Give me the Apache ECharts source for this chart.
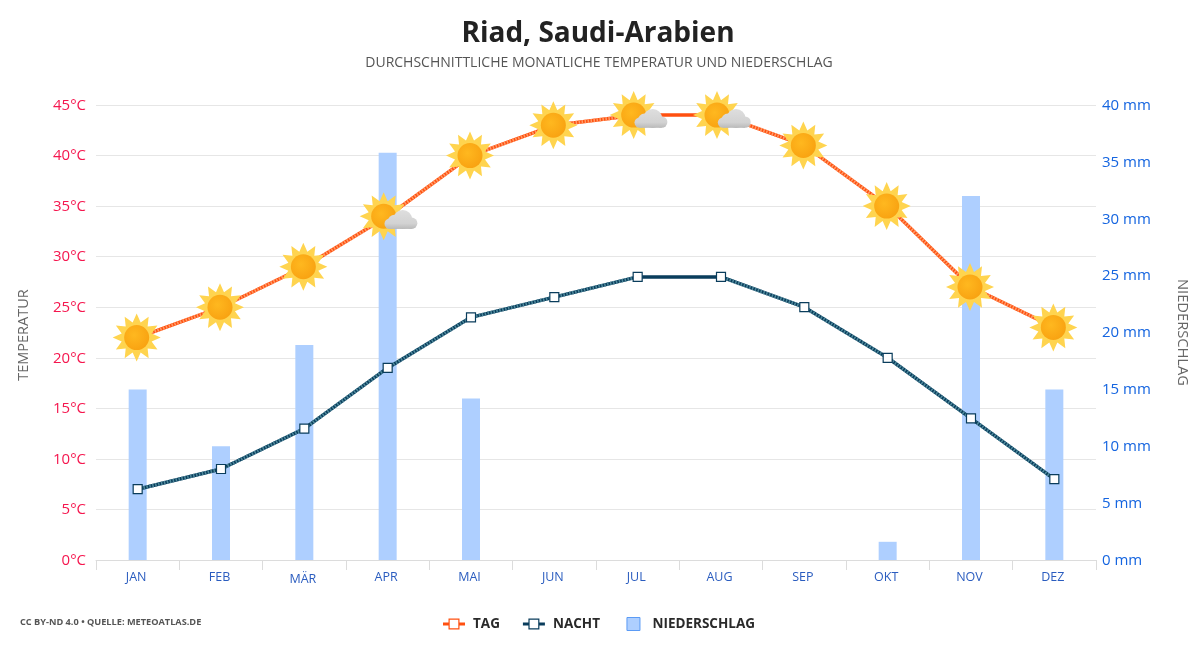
<!DOCTYPE html>
<html lang="de">
<head>
<meta charset="utf-8">
<title>Riad, Saudi-Arabien</title>
<script src="https://cdn.jsdelivr.net/npm/echarts@6/dist/echarts.min.js"></script>
<style>
  html, body { margin: 0; padding: 0; background: #fff; }
  #chart { width: 1200px; height: 650px; }
</style>
</head>
<body>
<div id="chart"></div>
<script>
const months = ['JAN', 'FEB', 'MÄR', 'APR', 'MAI', 'JUN', 'JUL', 'AUG', 'SEP', 'OKT', 'NOV', 'DEZ'];
const dayTemps = [22, 25, 29, 34, 40, 43, 44, 44, 41, 35, 27, 23];
const nightTemps = [7, 9, 13, 19, 24, 26, 28, 28, 25, 20, 14, 8];
const rainfall = [15, 10, 18.9, 35.8, 14.2, 0, 0, 0, 0, 1.6, 32, 15];
const weather = ['sun', 'sun', 'sun', 'cloud', 'sun', 'sun', 'cloud', 'cloud', 'sun', 'sun', 'sun', 'sun'];

const FONT = '"Open Sans", "Noto Sans", sans-serif';
const DAY_COLOR = '#ff5010';
const NIGHT_COLOR = '#0a3d5c';

// Sonnen-Icon als SVG, Mitte des Bildes = Mitte der Sonne
function weatherIcon(kind) {
  const pts = [];
  for (let i = 0; i < 24; i++) {
    const r = i % 2 === 0 ? 24 : 15.5;
    const a = (i * 15 - 90) * Math.PI / 180;
    pts.push((r * Math.cos(a)).toFixed(2) + ',' + (r * Math.sin(a)).toFixed(2));
  }
  let cloud = '';
  if (kind === 'cloud') {
    cloud = '<g fill="url(#c)"><circle cx="6" cy="7.5" r="5.2"/><circle cx="11" cy="5.5" r="7"/>' +
      '<circle cx="19" cy="3.3" r="9.5"/><circle cx="28" cy="7" r="5.7"/><rect x="6" y="6" width="22" height="6.7"/></g>';
  }
  const svg = '<svg xmlns="http://www.w3.org/2000/svg" width="76" height="52" viewBox="-38 -26 76 52">' +
    '<defs><radialGradient id="s" cx="0.4" cy="0.4" r="0.7"><stop offset="0" stop-color="#ffb81f"/><stop offset="1" stop-color="#f8a010"/></radialGradient>' +
    '<linearGradient id="c" x1="0" y1="-6" x2="0" y2="13" gradientUnits="userSpaceOnUse"><stop offset="0" stop-color="#dedede"/><stop offset="0.7" stop-color="#d2d2d2"/><stop offset="1" stop-color="#b8b8b8"/></linearGradient></defs>' +
    '<polygon points="' + pts.join(' ') + '" fill="#ffd44f"/>' +
    '<circle r="15" fill="#ffd44f"/><circle r="12.5" fill="url(#s)"/>' + cloud + '</svg>';
  return 'image://data:image/svg+xml;charset=utf-8,' + encodeURIComponent(svg);
}

// helle Streifen auf den schraegen Linienstuecken
function stripeSeries(values, from, to, color) {
  return {
    type: 'line', yAxisIndex: 0, z: 3, silent: true, symbol: 'none',
    lineStyle: { color: color, width: 3.5, type: [1.5, 1.5] },
    data: values.map((v, i) => (i >= from && i <= to ? v : '-'))
  };
}

const chart = echarts.init(document.getElementById('chart'), null, { renderer: 'canvas' });

const lineIcon = 'path://M0 4H5.5V0H16.5V4H22V7H16.5V11H5.5V7H0Z M6.7 1.2V9.8H15.3V1.2Z';

chart.setOption({
  animation: false,
  backgroundColor: '#fff',
  textStyle: { fontFamily: FONT },
  title: [
    {
      text: 'Riad, Saudi-Arabien',
      left: 593, top: 15, textAlign: 'center',
      textStyle: { fontFamily: FONT, fontSize: 28, fontWeight: 'bold', color: '#222' }
    },
    {
      text: 'DURCHSCHNITTLICHE MONATLICHE TEMPERATUR UND NIEDERSCHLAG',
      left: 594, top: 51, textAlign: 'center',
      textStyle: { fontFamily: FONT, fontSize: 14, fontWeight: 'normal', color: '#555' }
    },
    {
      text: 'CC BY-ND 4.0 • QUELLE: METEOATLAS.DE',
      left: 15, top: 613,
      textStyle: { fontFamily: FONT, fontSize: 9.2, fontWeight: 'bold', color: '#555' }
    }
  ],
  legend: {
    left: 438, top: 612,
    itemWidth: 22, itemHeight: 13, itemGap: 23,
    selectedMode: false,
    formatter: name => (name === 'NACHT' ? name + ' ' : name),
    textStyle: { fontFamily: FONT, fontSize: 13.5, fontWeight: 'bold', color: '#2a2a2a', padding: [0, 0, 0, 3] },
    data: [
      { name: 'TAG', icon: lineIcon, itemStyle: { color: DAY_COLOR, borderWidth: 0 } },
      { name: 'NACHT', icon: lineIcon, itemStyle: { color: NIGHT_COLOR, borderWidth: 0 } },
      { name: 'NIEDERSCHLAG', icon: 'path://M0 0H13V13H0Z', itemStyle: { color: '#aecfff', borderColor: '#5b9bf5', borderWidth: 1 } }
    ]
  },
  grid: { left: 96, right: 104, top: 105, bottom: 90 },
  xAxis: {
    type: 'category',
    data: months,
    axisLine: { lineStyle: { color: '#dcdcdc', width: 1 } },
    axisTick: { show: true, length: 10, lineStyle: { color: '#dcdcdc' } },
    axisLabel: {
      fontFamily: FONT, fontSize: 12.5, color: '#2a5cbf', margin: 10.5, padding: [0, 3, 0, 0],
      formatter: v => v === 'MÄR' ? '{low|' + v + '}' : v,
      rich: { low: { fontFamily: FONT, fontSize: 12.5, color: '#2a5cbf', padding: [2, 0, 0, 0] } }
    }
  },
  yAxis: [
    {
      type: 'value', min: 0, max: 45, interval: 5,
      name: 'TEMPERATUR', nameLocation: 'middle', nameRotate: 90, nameGap: 65,
      nameTextStyle: { fontFamily: FONT, fontSize: 14.5, color: '#666', padding: [0, 5, 0, 0] },
      axisLine: { show: false }, axisTick: { show: false },
      axisLabel: {
        margin: 10,
        formatter: v => '{t|' + v + '°C}',
        rich: { t: { fontFamily: FONT, fontSize: 15, color: '#f5164e', padding: [1, 0, 0, 0] } }
      },
      splitLine: { lineStyle: { color: '#e6e6e6', width: 1 } }
    },
    {
      type: 'value', min: 0, max: 40, interval: 5,
      name: 'NIEDERSCHLAG', nameLocation: 'middle', nameRotate: -90, nameGap: 79,
      nameTextStyle: { fontFamily: FONT, fontSize: 14.7, color: '#666' },
      axisLine: { show: false }, axisTick: { show: false },
      axisLabel: {
        margin: 6,
        formatter: v => '{t|' + v + ' mm}',
        rich: { t: { fontFamily: FONT, fontSize: 15, color: '#1565e0', padding: [1, 0, 0, 0] } }
      },
      splitLine: { show: false }
    }
  ],
  series: [
    {
      name: 'NIEDERSCHLAG', type: 'bar', yAxisIndex: 1, barWidth: 18, z: 2,
      itemStyle: { color: '#aecfff' },
      data: rainfall
    },
    {
      name: 'NACHT', type: 'line', yAxisIndex: 0, z: 3,
      lineStyle: { color: NIGHT_COLOR, width: 3.5 },
      symbol: 'none',
      data: nightTemps
    },
    stripeSeries(nightTemps, 0, 6, '#4f8a9c'),
    stripeSeries(nightTemps, 7, 11, '#4f8a9c'),
    {
      name: 'NACHT', type: 'line', yAxisIndex: 0, z: 4,
      lineStyle: { width: 0 },
      symbol: 'rect', symbolSize: 9, showAllSymbol: true,
      itemStyle: { color: '#fff', borderColor: NIGHT_COLOR, borderWidth: 1.2 },
      data: nightTemps
    },
    {
      name: 'TAG', type: 'line', yAxisIndex: 0, z: 3,
      lineStyle: { color: DAY_COLOR, width: 3.5 },
      symbol: 'none',
      data: dayTemps
    },
    stripeSeries(dayTemps, 0, 6, '#ff9a66'),
    stripeSeries(dayTemps, 7, 11, '#ff9a66'),
    {
      name: 'TAG', type: 'line', yAxisIndex: 0, z: 5,
      lineStyle: { width: 0 },
      showAllSymbol: true,
      data: dayTemps.map((v, i) => ({
        value: v,
        symbol: weatherIcon(weather[i]),
        symbolSize: [76, 52],
        symbolOffset: weather[i] === 'cloud' ? [-4, 0] : [-1, 0]
      }))
    }
  ]
});
</script>
</body>
</html>
